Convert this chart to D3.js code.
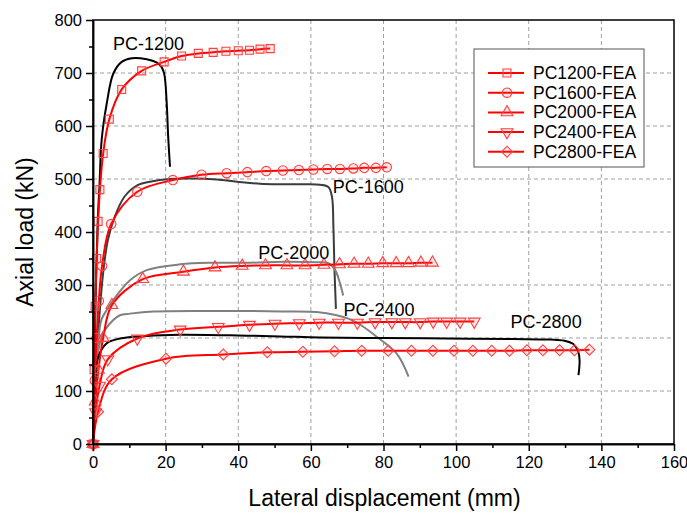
<!DOCTYPE html>
<html>
<head>
<meta charset="utf-8">
<script src="https://cdn.jsdelivr.net/npm/d3@7"></script>
<style>
  body { margin: 0; background: #fff; }
  svg { font-family: "Liberation Sans", Arial, sans-serif; }
  .grid line { stroke: #a0a0a0; stroke-dasharray: 4,3; stroke-width: 1; }
  .axis path, .axis line { stroke: #000; stroke-width: 1.5; }
  .axis text { font-size: 16.5px; fill: #000; }
</style>
</head>
<body>
<div id="graphicContainer"></div>
<script>

// FEA curves, [displacement mm, load kN]
var fea1200 = [[0,0],[0.3,140],[0.6,260],[1.0,350],[1.4,420],[1.9,480],[2.8,548],[4.5,613],[7.9,669],[13.4,704],[19.6,721],[24.4,732],[29.0,737],[33.1,739],[36.6,741],[40.0,742],[43.1,743],[46.0,745],[48.8,746]]
var fea1600 = [[0,0],[0.5,120],[1.0,200],[1.6,270],[2.5,336],[5.0,415],[12.2,476],[22.0,498],[29.9,508],[36.8,511],[42.5,513],[47.7,515],[52.3,516],[56.7,517],[60.7,518],[64.5,519],[68.0,519],[71.7,520],[74.7,521],[77.9,521],[80.9,522]]
var fea2000 = [[0,0],[0.6,80],[1.5,140],[2.8,200],[5.2,262],[13.7,311],[24.9,325],[33.6,333],[41.1,336],[47.5,337],[53.4,337],[58.4,337],[63.6,338],[67.9,339],[71.9,340],[75.8,340],[79.8,341],[83.5,341],[86.9,341],[90.3,342],[93.5,342]]
var fea2400 = [[0,0],[0.7,60],[1.8,110],[4.1,160],[12.2,199],[24.0,216],[34.5,221],[43.1,225],[50.1,227],[56.8,228],[62.3,229],[67.6,229],[72.8,229],[77.7,230],[82.3,230],[86.0,230],[90.1,230],[93.7,231],[97.4,231],[101.1,231],[105.0,231]]
var fea2800 = [[0,0],[1.4,61],[5.2,122],[20.1,161],[35.9,169],[48.0,173],[57.8,174],[66.5,175],[74.0,176],[81.3,176],[87.7,176],[93.6,176],[99.4,176],[104.6,176],[109.8,176],[114.7,176],[119.5,177],[123.9,177],[128.5,177],[132.6,177],[136.7,178]]

// test curves
var exp1200 = [[0,0],[0.4,150],[0.8,300],[1.3,420],[1.8,490],[2.4,575],[3.8,643],[5.6,699],[7.9,721],[10.7,728],[14.8,726],[17.5,720],[18.8,712],[19.6,699],[20.3,643],[20.7,580],[21.2,523]]
var exp1600 = [[0,0],[0.6,90],[1.3,190],[2.1,272],[3.0,335],[4.1,385],[6.0,429],[8.7,467],[12.4,489],[15.7,495],[21.2,500],[27.6,501],[34.1,499],[39.6,495],[46.0,491],[52.4,490],[58.9,490],[62.5,489],[64.8,485],[65.8,467],[66.2,410],[66.5,330],[66.9,255]]
var exp2000 = [[0,0],[0.6,100],[1.4,190],[2.3,234],[3.8,253],[5.6,272],[10.2,309],[14.8,328],[24.0,339],[33.1,342],[43.3,342],[52.4,344],[61.6,343],[64.8,341],[66.7,328],[67.9,306],[68.9,280]]
var exp2400 = [[0,0],[0.5,100],[1.3,170],[2.8,209],[5.6,234],[7.4,243],[10.2,246],[16.6,250],[33.1,251],[43.3,251],[52.0,250],[61.6,249],[67.1,243],[70.5,236],[73.6,225],[78.2,202],[83.7,170],[86.9,127]]
var exp2800 = [[0,0],[0.3,60],[0.6,102],[1.5,165],[3.8,190],[7.4,199],[14.8,204],[24.0,206],[37.7,205],[51.5,203],[62.5,201],[79.1,200],[97.4,199],[115.8,198],[126.0,197],[129.8,195],[132.2,189],[133.6,175],[134.0,158],[133.7,130]]

var feaNames = ["PC1200-FEA", "PC1600-FEA", "PC2000-FEA", "PC2400-FEA", "PC2800-FEA"]
var expNames = ["PC-1200", "PC-1600", "PC-2000", "PC-2400", "PC-2800"]
var expColours = ["#000", "#3c3c3c", "#808080", "#808080", "#000"]
var expLabelAt = [[5.5, 744], [66, 474], [45.5, 350], [69, 242], [115, 218]]

var xTicks = [0, 20, 40, 60, 80, 100, 120, 140, 160]
var yTicks = [0, 100, 200, 300, 400, 500, 600, 700, 800]

var width = 687, height = 518
var margin = { top: 20, right: 13, bottom: 74, left: 93 }

var svg = d3.select("#graphicContainer").append("svg")
  .attr("width", width)
  .attr("height", height)

var x = d3.scaleLinear().domain([0, 160]).range([margin.left, width - margin.right])
var y = d3.scaleLinear().domain([0, 800]).range([height - margin.bottom, margin.top])

// dashed grid
svg.append("g").attr("class", "grid")
  .selectAll("line").data(xTicks.slice(1, -1)).enter().append("line")
  .attr("x1", d => x(d)).attr("x2", d => x(d))
  .attr("y1", y(0)).attr("y2", y(800))

svg.append("g").attr("class", "grid")
  .selectAll("line").data(yTicks.slice(1, -1)).enter().append("line")
  .attr("y1", d => y(d)).attr("y2", d => y(d))
  .attr("x1", x(0)).attr("x2", x(160))

var line = d3.line()
  .x(d => x(d[0]))
  .y(d => y(d[1]))
  .curve(d3.curveCatmullRom.alpha(0.5))

var expData = [exp1200, exp1600, exp2000, exp2400, exp2800]
var feaData = [fea1200, fea1600, fea2000, fea2400, fea2800]

expData.forEach((s, i) => {
  svg.append("path")
    .attr("d", line(s))
    .attr("fill", "none")
    .attr("stroke", expColours[i])
    .attr("stroke-width", 2)
})

feaData.forEach(s => {
  svg.append("path")
    .attr("d", line(s))
    .attr("fill", "none")
    .attr("stroke", "#ff0000")
    .attr("stroke-width", 2)
})

// marker shapes
var shapes = [
  { type: d3.symbolSquare, size: 64, rot: 0 },
  { type: d3.symbolCircle, size: 70, rot: 0 },
  { type: d3.symbolTriangle, size: 60, rot: 0 },
  { type: d3.symbolTriangle, size: 60, rot: 180 },
  { type: d3.symbolSquare, size: 60, rot: 45 }
]

function addMarker(g, i, px, py) {
  g.append("path")
    .attr("d", d3.symbol().type(shapes[i].type).size(shapes[i].size)())
    .attr("transform", `translate(${px},${py}) rotate(${shapes[i].rot})`)
    .attr("fill", "rgba(255,80,80,0.12)")
    .attr("stroke", "#ff4040")
    .attr("stroke-width", 1.1)
}

feaData.forEach((s, i) => {
  var g = svg.append("g")
  s.forEach(d => addMarker(g, i, x(d[0]), y(d[1])))
})

// labels for test curves
expNames.forEach((n, i) => {
  svg.append("text")
    .attr("x", x(expLabelAt[i][0]))
    .attr("y", y(expLabelAt[i][1]))
    .attr("font-size", 18)
    .text(n)
})

// axes
svg.append("g").attr("class", "axis")
  .attr("transform", `translate(0,${y(0)})`)
  .call(d3.axisBottom(x).tickValues(xTicks).tickSize(7).tickPadding(5).tickSizeOuter(0))

svg.append("g").attr("class", "axis")
  .attr("transform", `translate(0,${y(0)})`)
  .call(d3.axisBottom(x).tickValues(d3.range(10, 160, 20)).tickSize(4).tickFormat("").tickSizeOuter(0))

svg.append("g").attr("class", "axis")
  .attr("transform", `translate(${x(0)},0)`)
  .call(d3.axisLeft(y).tickValues(yTicks).tickSize(7).tickPadding(4).tickSizeOuter(0))

svg.append("g").attr("class", "axis")
  .attr("transform", `translate(${x(0)},0)`)
  .call(d3.axisLeft(y).tickValues(d3.range(50, 800, 100)).tickSize(4).tickFormat("").tickSizeOuter(0))

svg.append("rect")
  .attr("x", x(0)).attr("y", y(800))
  .attr("width", x(160) - x(0)).attr("height", y(0) - y(800))
  .attr("fill", "none").attr("stroke", "#000").attr("stroke-width", 1.5)

svg.append("text")
  .attr("x", (x(0) + x(160)) / 2 + 1)
  .attr("y", 506)
  .attr("text-anchor", "middle")
  .attr("font-size", 23)
  .text("Lateral displacement (mm)")

svg.append("text")
  .attr("transform", `translate(33,${(y(0) + y(800)) / 2}) rotate(-90)`)
  .attr("text-anchor", "middle")
  .attr("font-size", 23)
  .text("Axial load (kN)")

// legend
var legend = svg.append("g").attr("transform", "translate(474,49)")

legend.append("rect")
  .attr("width", 170).attr("height", 118)
  .attr("fill", "#fff").attr("stroke", "#555").attr("stroke-width", 1)

feaNames.forEach((n, i) => {
  var ly = 24 + i * 19.7
  legend.append("line")
    .attr("x1", 14).attr("x2", 50)
    .attr("y1", ly).attr("y2", ly)
    .attr("stroke", "#ff0000").attr("stroke-width", 2)
  addMarker(legend, i, 33, ly)
  legend.append("text")
    .attr("x", 59).attr("y", ly + 6)
    .attr("font-size", 17.5)
    .text(n)
})

</script>
</body>
</html>
